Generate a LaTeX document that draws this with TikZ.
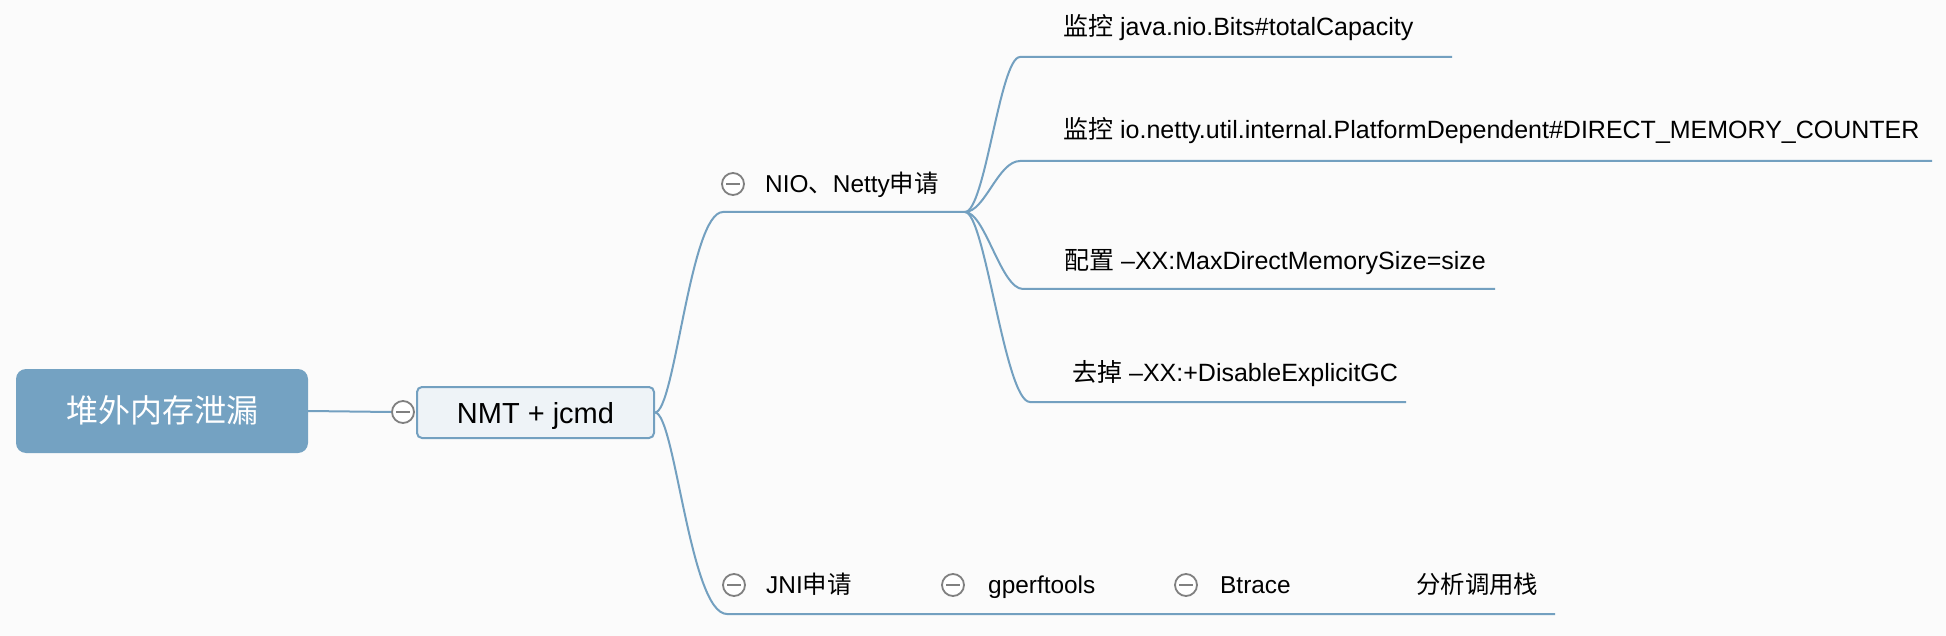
\documentclass[tikz,border=0pt]{standalone}
\usepackage{fontspec}
\setmainfont{Liberation Sans}
\newfontfamily\cjk{Noto Sans CJK SC}
\definecolor{bg}{RGB}{251,251,251}
\definecolor{ln}{RGB}{115,160,192}
\definecolor{rootfill}{RGB}{116,162,194}
\definecolor{nmtfill}{RGB}{238,243,247}
\definecolor{cgray}{RGB}{128,128,128}
\begin{document}
\begin{tikzpicture}[x=1pt,y=-1pt,
  conn/.style={draw=ln,line width=2pt},
  lbl/.style={anchor=base west,inner sep=0pt,font=\fontsize{24.4}{28}\selectfont,text=black},
  lblb/.style={lbl,font=\fontsize{25}{29}\selectfont},
  fold/.style={circle,draw=cgray,fill=white,line width=1.8pt,minimum size=22pt,inner sep=0pt,
    path picture={\draw[cgray,line width=2.2pt] ([xshift=-7pt]path picture bounding box.center) -- ([xshift=7pt]path picture bounding box.center);}},
]
\fill[bg] (0,0) rectangle (1946,636);
\useasboundingbox (0,0) rectangle (1946,636);

% root and central topic
\node[rounded corners=10pt, fill=rootfill, minimum width=292pt, minimum height=84pt, inner sep=0pt,
      text=white, font=\cjk\fontsize{32}{36}\selectfont, text height=23pt, text depth=0pt] (root) at (162,411) {堆外内存泄漏};
\node[fold] (c0) at (403,412) {};
\node[rounded corners=5pt, draw=ln, line width=2pt, fill=nmtfill, minimum width=237pt, minimum height=51pt, inner sep=0pt,
      font=\fontsize{29}{33}\selectfont, text height=21pt, text depth=0pt] (nmt) at (535.5,412.5) {NMT + jcmd};
\draw[conn] (root.east) -- (c0.west);

% level 2: NIO
\node[fold] (c1) at (733,184) {};
\node[lbl] (nio) at (765,192.5) {NIO{\cjk 、}Netty{\cjk 申请}};
\coordinate (nioL) at (723,212);
\coordinate (nioR) at (965,212);
\draw[conn] (nmt.east) .. controls +(20,0) and +(-33,0) .. (nioL) -- (nioR);

% level 2: JNI chain
\node[fold] (c2) at (734,585) {};
\node[lbl] (jni) at (766,593.5) {JNI{\cjk 申请}};
\node[fold] (c3) at (953,585) {};
\node[lbl] (gperf) at (988,593.5) {gperftools};
\node[fold] (c4) at (1186,585) {};
\node[lbl] (btrace) at (1220,593.5) {Btrace};
\node[lbl] (stack) at (1416,593.5) {\cjk 分析调用栈};
\coordinate (jniL) at (727,614);
\coordinate (jniR) at (1555,614);
\draw[conn] (nmt.east) .. controls +(20,0) and +(-37,0) .. (jniL) -- (jniR);

% level 3 under NIO
\node[lblb] (t1) at (1063,35.5) {{\cjk 监控} java.nio.Bits\#totalCapacity};
\node[lblb] (t2) at (1063,138.5) {{\cjk 监控} io.netty.util.internal.PlatformDependent\#DIRECT\_MEMORY\_COUNTER};
\node[lblb] (t3) at (1064,269.5) {{\cjk 配置} –XX:MaxDirectMemorySize=size};
\node[lblb] (t4) at (1072,381.5) {{\cjk 去掉} –XX:+DisableExplicitGC};
\coordinate (a1L) at (1020,57);   \coordinate (a1R) at (1452,57);
\coordinate (a2L) at (1020,161);  \coordinate (a2R) at (1932,161);
\coordinate (a3L) at (1023,289);  \coordinate (a3R) at (1495,289);
\coordinate (a4L) at (1030,402);  \coordinate (a4R) at (1406,402);
\draw[conn] (nioR) .. controls +(20,0) and +(-20,0) .. (a1L) -- (a1R);
\draw[conn] (nioR) .. controls +(20,0) and +(-22,0) .. (a2L) -- (a2R);
\draw[conn] (nioR) .. controls +(20,0) and +(-22,0) .. (a3L) -- (a3R);
\draw[conn] (nioR) .. controls +(20,0) and +(-25,0) .. (a4L) -- (a4R);
\end{tikzpicture}
\end{document}
